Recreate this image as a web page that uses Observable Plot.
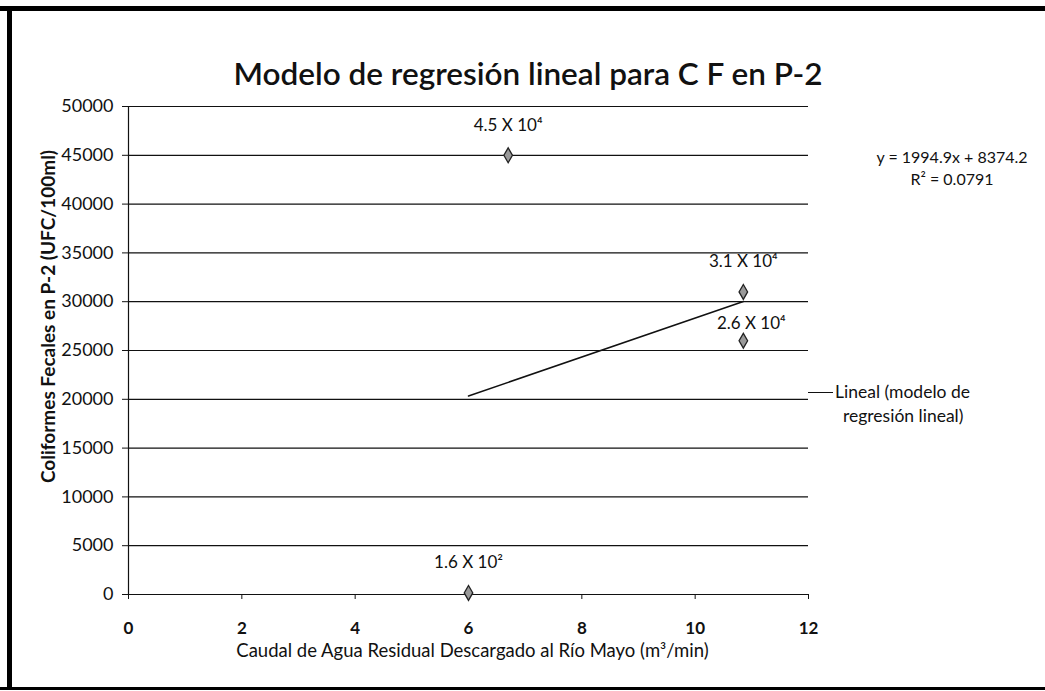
<!DOCTYPE html>
<html>
<head>
<meta charset="utf-8">
<script src="https://cdn.jsdelivr.net/npm/d3@7"></script>
<script src="https://cdn.jsdelivr.net/npm/@observablehq/plot@0.6"></script>
<style>
  html, body { margin: 0; padding: 0; background: #fff; }
  #wrap { position: relative; width: 1045px; height: 691px; overflow: hidden; font-family: Lato, "Open Sans", sans-serif; color: #111; }
  #wrap svg { position: absolute; left: 0; top: 0; }
  .bT { position: absolute; left: 0; top: 6px; width: 1045px; height: 5px; background: #000; }
  .bL { position: absolute; left: 7px; top: 6px; width: 5px; height: 684px; background: #000; }
  .bB { position: absolute; left: 0; top: 687px; width: 1045px; height: 3px; background: #000; }
  #title { position: absolute; left: 0; width: 1056px; top: 54px; text-align: center; font-size: 31.5px; font-weight: 600; }
  #eq { position: absolute; left: 862px; width: 180px; top: 146px; text-align: center; font-size: 16px; line-height: 22px; }
  #legend { position: absolute; left: 808px; top: 380px; font-size: 17.5px; line-height: 24px; }
  #legend .l1 { display: flex; align-items: center; }
  #legend .sw { display: inline-block; width: 25px; height: 0; border-top: 1.5px solid #111; margin-right: 2px; }
  #legend .l2 { padding-left: 35px; }
</style>
</head>
<body>
<div id="wrap">
  <div id="title">Modelo de regresión lineal para C F en P-2</div>
  <div id="eq"></div>
  <div id="legend"></div>
  <div class="bT"></div><div class="bL"></div><div class="bB"></div>
</div>
<script>
// Data
const caudal = [6.0, 6.7, 10.85, 10.85];               // m³/min
const coliformes = [160, 45000, 31000, 26000];         // UFC/100ml
const etiquetas = ["1.6 X 10²", "4.5 X 10⁴", "3.1 X 10⁴", "2.6 X 10⁴"];
const pendiente = 1994.9;
const intercepto = 8374.2;
const r2 = 0.0791;
const xTicks = [0, 2, 4, 6, 8, 10, 12];
const yTicks = [0, 5000, 10000, 15000, 20000, 25000, 30000, 35000, 40000, 45000, 50000];
const tituloY = "Coliformes Fecales en P-2 (UFC/100ml)";
const tituloX = "Caudal de Agua Residual Descargado al Río Mayo (m³/min)";
const leyenda = ["Lineal (modelo de", "regresión lineal)"];

const puntos = caudal.map((x, i) => ({x, y: coliformes[i], label: etiquetas[i]}));
const xMin = d3.min(caudal), xMax = d3.max(caudal);
const tendencia = [xMin, xMax].map(x => ({x, y: pendiente * x + intercepto}));

document.getElementById("eq").innerHTML =
  `y = ${pendiente}x + ${intercepto}<br>R² = ${r2}`;
document.getElementById("legend").innerHTML =
  `<div class="l1"><span class="sw"></span>${leyenda[0]}</div><div class="l2">${leyenda[1]}</div>`;

const chart = Plot.plot({
  width: 1045,
  height: 691,
  marginLeft: 128,
  marginRight: 237,
  marginTop: 106,
  marginBottom: 97,
  style: {fontFamily: "Lato, 'Open Sans', sans-serif", background: "transparent", color: "#111"},
  x: {domain: [0, 12], ticks: xTicks},
  y: {domain: [0, 50000], ticks: yTicks},
  marks: [
    Plot.ruleY(yTicks, {stroke: "#111", strokeWidth: 1.2}),
    Plot.ruleX([0], {stroke: "#111", strokeWidth: 1.2}),
    Plot.axisY({ticks: yTicks, tickSize: 6, tickPadding: 9, fontSize: 18, label: null, tickFormat: d => String(d), stroke: "#111"}),
    Plot.axisX({ticks: xTicks, tickSize: 5, tickPadding: 22, fontSize: 17, fontWeight: "bold", label: null, stroke: "#111"}),
    Plot.text([tituloY], {frameAnchor: "left", textAnchor: "middle", rotate: -90, dx: -80, dy: -34, fontSize: 19, fontWeight: "bold"}),
    Plot.text([tituloX], {frameAnchor: "bottom", lineAnchor: "middle", dy: 57, dx: 4, fontSize: 18.5}),
    Plot.line(tendencia, {x: "x", y: "y", stroke: "#111", strokeWidth: 1.5}),
    Plot.dot(puntos, {x: "x", y: "y", symbol: "diamond", r: 4.5, fill: "#9a9a9a", stroke: "#222", strokeWidth: 1.3}),
    Plot.text(puntos.filter(d => d.label !== "2.6 X 10⁴"), {x: "x", y: "y", text: "label", dy: -30, fontSize: 17}),
    Plot.text(puntos.filter(d => d.label === "2.6 X 10⁴"), {x: "x", y: "y", text: "label", dy: -17, dx: 8, fontSize: 17})
  ]
});
document.getElementById("wrap").prepend(chart);
</script>
</body>
</html>
